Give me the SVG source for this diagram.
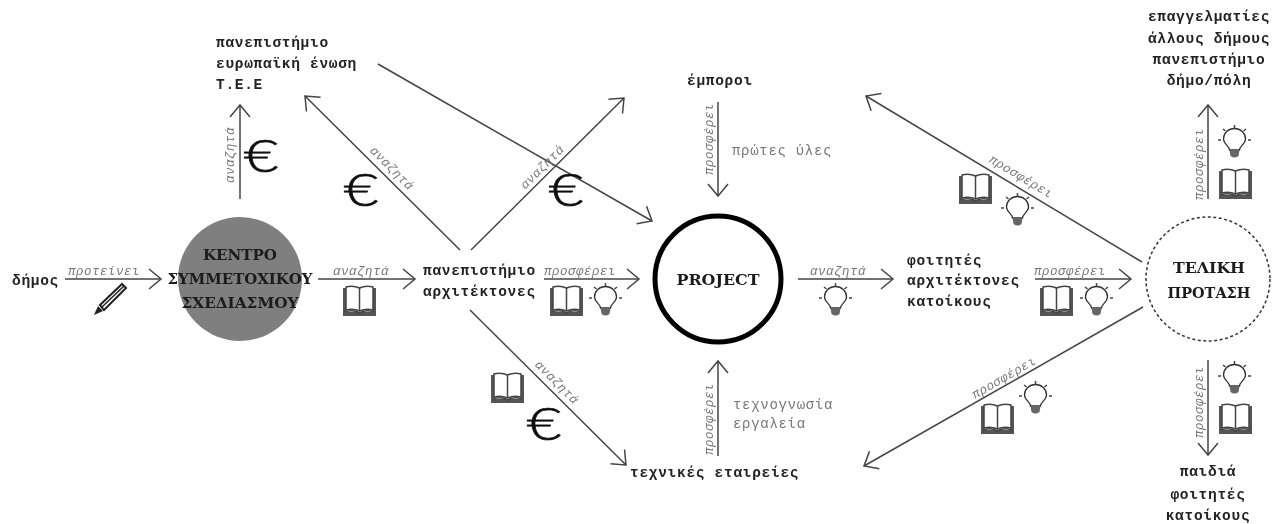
<svg xmlns="http://www.w3.org/2000/svg" xmlns:xlink="http://www.w3.org/1999/xlink" width="1272" height="524" viewBox="0 0 1272 524">
<style>
text{font-family:"Liberation Mono","DejaVu Sans Mono",monospace}
.n{font-size:14.500px;font-weight:700;letter-spacing:0.7px;fill:#222}
.c{font-family:"DejaVu Serif",serif;font-size:14px;font-weight:700;fill:#1a1a1a;text-anchor:middle}
.l{font-size:12.500px;font-style:italic;letter-spacing:0.5px;fill:#777;text-anchor:middle}
.g{font-size:14px;letter-spacing:0.7px;fill:#777}
.e{font-family:"Lato",sans-serif;font-weight:300;font-size:46px;fill:#111;stroke:#111;stroke-width:0.7;text-anchor:middle}
.a{fill:none;stroke:#444;stroke-width:1.5;marker-end:url(#h)}
</style>
<defs>
<filter id="b" x="0" y="0" width="100%" height="100%"><feGaussianBlur stdDeviation="0.45"/></filter>
<marker id="h" markerUnits="userSpaceOnUse" markerWidth="24" markerHeight="24" refX="13" refY="12" orient="auto"><path d="M1 2L13 12L1 22" fill="none" stroke="#444" stroke-width="1.5"/></marker>
<g id="book"><path d="M0 3H3V27H30V3H33V31H0Z" fill="#555"/><path d="M3 2Q10 0 16.500 3Q23 0 30 2V25Q23 23 16.500 26Q10 23 3 25Z" fill="#fff" stroke="#444" stroke-width="1.500"/><path d="M16.500 3V26M2 27Q10 24 16.500 28Q23 24 31 27" fill="none" stroke="#444" stroke-width="1.500"/></g>
<g id="bulb"><path d="M10.500 23C10.500 19 4.500 17 4.500 12A11 10.500 0 0 1 26.500 12C26.500 17 20.500 19 20.500 23Z" fill="#fff" stroke="#333" stroke-width="1.300"/><path d="M10.500 23H20.500L19.500 29Q15.500 32 11.500 29Z" fill="#666"/><path d="M15.500 -2V1M4 2L6.500 4M27 2L24.500 4M-1 13H2M29 13H32" stroke="#444" stroke-width="1.500" fill="none"/></g>
</defs>
<rect width="1272" height="524" fill="#fff"/>
<g filter="url(#b)">
<g id="connectors">
<path class="a" d="M65 279H161"/>
<path class="a" d="M318 279H415"/>
<path class="a" d="M240 199V105"/>
<path class="a" d="M460 250L305 96"/>
<path class="a" d="M471 250L624 98"/>
<path class="a" d="M470 310L626 465"/>
<path class="a" d="M378 64L652 221"/>
<path class="a" d="M544 279H639"/>
<path class="a" d="M798 279H893"/>
<path class="a" d="M1035 279H1131"/>
<path class="a" d="M718 102V196"/>
<path class="a" d="M718 456V361"/>
<path class="a" d="M1142 262L866 96"/>
<path class="a" d="M1143 307L864 466"/>
<path class="a" d="M1208 199V105"/>
<path class="a" d="M1208 360V455"/>
<g id="connector-labels">
<text class="l" x="104" y="275">προτείνει</text>
<text class="l" x="361" y="275">αναζητά</text>
<text class="l" x="580" y="275">προσφέρει</text>
<text class="l" x="838" y="275">αναζητά</text>
<text class="l" x="1070" y="275">προσφέρει</text>
<text class="l" transform="translate(234,155) rotate(-90)">αναζητά</text>
<text class="l" transform="translate(389,171) rotate(45)">αναζητά</text>
<text class="l" transform="translate(545,170) rotate(-45)">αναζητά</text>
<text class="l" transform="translate(554,385) rotate(45)">αναζητά</text>
<text class="l" transform="translate(713,139) rotate(-90)">προσφέρει</text>
<text class="l" transform="translate(713,419) rotate(-90)">προσφέρει</text>
<text class="l" transform="translate(1019,180) rotate(31)">προσφέρει</text>
<text class="l" transform="translate(1006,381) rotate(-30)">προσφέρει</text>
<text class="l" transform="translate(1203,164) rotate(-90)">προσφέρει</text>
<text class="l" transform="translate(1203,402) rotate(-90)">προσφέρει</text>
</g>
</g>
<g id="node-dimos"><text class="n" x="12" y="285">δήμος</text></g>
<g id="node-kentro"><circle cx="240" cy="279" r="62" fill="#7f7f7f"/><text class="c" x="240" y="260" textLength="74" lengthAdjust="spacingAndGlyphs">ΚΕΝΤΡΟ</text><text class="c" x="240" y="284" textLength="145" lengthAdjust="spacingAndGlyphs">ΣΥΜΜΕΤΟΧΙΚΟΥ</text><text class="c" x="240" y="308" textLength="117" lengthAdjust="spacingAndGlyphs">ΣΧΕΔΙΑΣΜΟΥ</text></g>
<g id="node-funders"><text class="n" x="216" y="47">πανεπιστήμιο</text><text class="n" x="216" y="68">ευρωπαϊκή ένωση</text><text class="n" x="216" y="89">Τ.Ε.Ε</text></g>
<g id="node-university"><text class="n" x="423" y="275">πανεπιστήμιο</text><text class="n" x="423" y="296">αρχιτέκτονες</text></g>
<g id="node-project"><circle cx="718" cy="279" r="63" fill="#fff" stroke="#000" stroke-width="5"/><text class="c" x="718" y="285" textLength="83" lengthAdjust="spacingAndGlyphs">PROJECT</text></g>
<g id="node-merchants"><text class="n" x="687" y="85">έμποροι</text></g>
<g id="node-tech"><text class="n" x="630" y="477">τεχνικές εταιρείες</text></g>
<g id="node-students"><text class="n" x="907" y="265">φοιτητές</text><text class="n" x="907" y="285">αρχιτέκτονες</text><text class="n" x="907" y="306">κατοίκους</text></g>
<g id="node-final"><circle cx="1208" cy="279" r="62" fill="#fff" stroke="#333" stroke-width="1.500" stroke-dasharray="3 2.500"/><text class="c" x="1209" y="273" textLength="72" lengthAdjust="spacingAndGlyphs">ΤΕΛΙΚΗ</text><text class="c" x="1209" y="298" textLength="83" lengthAdjust="spacingAndGlyphs">ΠΡΟΤΑΣΗ</text></g>
<g id="node-professionals"><text class="n" x="1209" y="21" text-anchor="middle">επαγγελματίες</text><text class="n" x="1209" y="43" text-anchor="middle">άλλους δήμους</text><text class="n" x="1209" y="64" text-anchor="middle">πανεπιστήμιο</text><text class="n" x="1209" y="85" text-anchor="middle">δήμο/πόλη</text></g>
<g id="node-children"><text class="n" x="1208" y="476" text-anchor="middle">παιδιά</text><text class="n" x="1208" y="499" text-anchor="middle">φοιτητές</text><text class="n" x="1208" y="520" text-anchor="middle">κατοίκους</text></g>
<g id="resources">
<text class="g" x="732" y="155">πρώτες ύλες</text>
<text class="g" x="733" y="409">τεχνογνωσία</text>
<text class="g" x="733" y="428">εργαλεία</text>
<text class="e" transform="translate(261,172) scale(1.3,1)">€</text>
<text class="e" transform="translate(361,206) scale(1.3,1)">€</text>
<text class="e" transform="translate(566,206) scale(1.3,1)">€</text>
<text class="e" transform="translate(544,440) scale(1.3,1)">€</text>
<path d="M94 315L98 306L103 311Z" fill="#222"/><path d="M100 305L122 284L126 288L104 310Z" fill="#fff" stroke="#222" stroke-width="2"/><path d="M102 307L124 286" stroke="#222" stroke-width="1.500"/>
<use xlink:href="#book" x="343" y="285"/>
<use xlink:href="#book" x="550" y="285"/>
<use xlink:href="#bulb" x="590" y="285"/>
<use xlink:href="#bulb" x="820" y="285"/>
<use xlink:href="#book" x="1040" y="285"/>
<use xlink:href="#bulb" x="1081" y="285"/>
<use xlink:href="#book" x="959" y="173"/>
<use xlink:href="#bulb" x="1002" y="195"/>
<use xlink:href="#bulb" x="1219" y="127"/>
<use xlink:href="#book" x="1219" y="168"/>
<use xlink:href="#book" x="981" y="403"/>
<use xlink:href="#bulb" x="1020" y="383"/>
<use xlink:href="#bulb" x="1219" y="363"/>
<use xlink:href="#book" x="1219" y="403"/>
<use xlink:href="#book" x="491" y="372"/>
</g>
</g>
</svg>
